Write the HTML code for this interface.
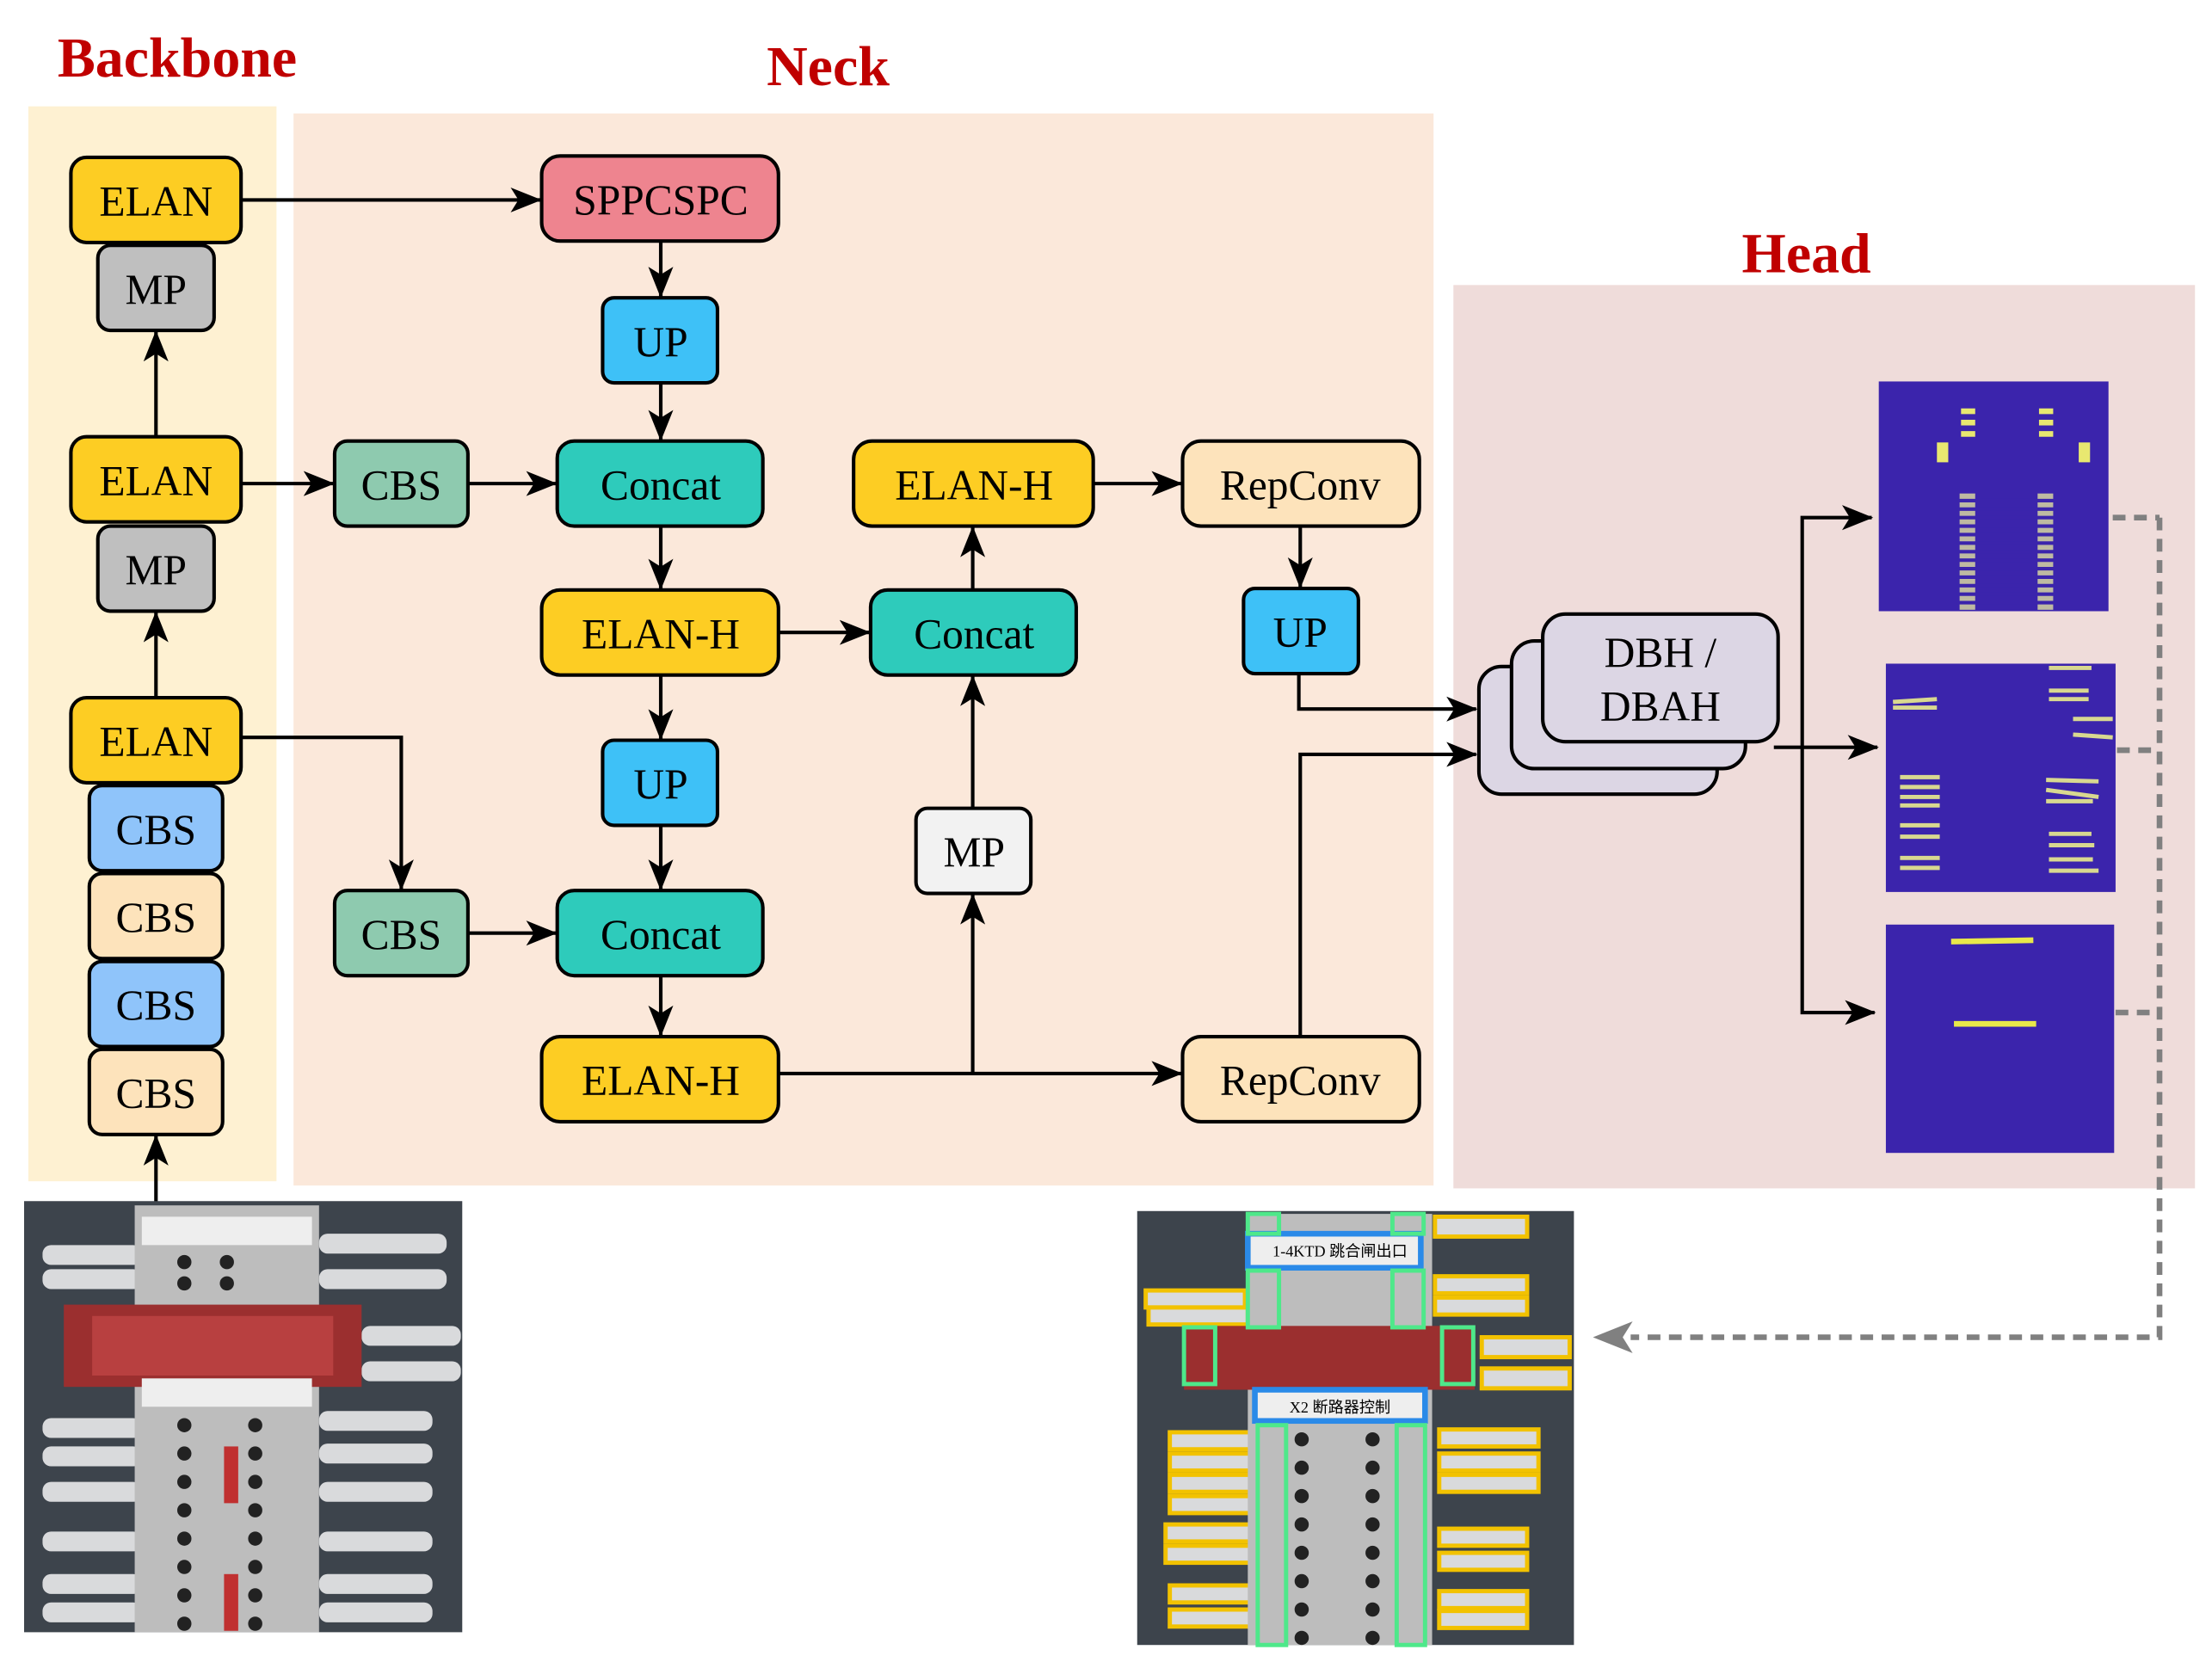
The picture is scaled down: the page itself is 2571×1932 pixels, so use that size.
<!DOCTYPE html>
<html><head><meta charset="utf-8"><style>
html,body{margin:0;padding:0;background:#fff;}
svg{display:block;}
text{font-family:"Liberation Serif",serif;}
</style></head><body>
<svg width="2571" height="1932" viewBox="0 0 1560 1172" preserveAspectRatio="none" xmlns="http://www.w3.org/2000/svg">
<defs>
<marker id="ah" markerWidth="10" markerHeight="10" refX="9" refY="5" orient="auto" markerUnits="userSpaceOnUse" viewBox="0 0 10 10">
</marker>
<marker id="a" viewBox="0 0 20 16" refX="19" refY="8" markerWidth="22" markerHeight="18" orient="auto" markerUnits="userSpaceOnUse"><path d="M0,0 L20,8 L0,16 L5,8 z" fill="#000"/></marker>
<marker id="g" viewBox="0 0 20 16" refX="1" refY="8" markerWidth="28" markerHeight="24" orient="auto-start-reverse" markerUnits="userSpaceOnUse"><path d="M0,0 L20,8 L0,16 L5,8 z" fill="#808080"/></marker>
</defs>

<!-- backgrounds -->
<rect x="20" y="75" width="175" height="758" fill="#fef1d2"/>
<rect x="207" y="80" width="804" height="756" fill="#fbe8da"/>
<rect x="1025" y="201" width="523" height="637" fill="#efdcda"/>

<!-- titles -->
<g font-weight="bold" fill="#c00000" font-size="40" text-anchor="middle">
<text x="125" y="54">Backbone</text>
<text x="584" y="60">Neck</text>
<text x="1274" y="192">Head</text>
</g>

<!-- connectors -->
<g stroke="#000" stroke-width="2.5" fill="none" marker-end="url(#a)">
<line x1="170" y1="141" x2="381" y2="141"/>
<line x1="466" y1="170" x2="466" y2="209"/>
<line x1="466" y1="270" x2="466" y2="310"/>
<line x1="170" y1="341" x2="235" y2="341"/>
<line x1="330" y1="341" x2="392" y2="341"/>
<line x1="466" y1="371" x2="466" y2="415"/>
<line x1="549" y1="446" x2="613" y2="446"/>
<line x1="466" y1="476" x2="466" y2="521"/>
<line x1="466" y1="582" x2="466" y2="627"/>
<polyline points="170,520 283,520 283,627"/>
<line x1="330" y1="658" x2="392" y2="658"/>
<line x1="466" y1="688" x2="466" y2="730"/>
<line x1="549" y1="757" x2="833" y2="757"/>
<line x1="686" y1="757" x2="686" y2="631"/>
<line x1="686" y1="570" x2="686" y2="477"/>
<line x1="686" y1="416" x2="686" y2="372"/>
<line x1="771" y1="341" x2="833" y2="341"/>
<line x1="917" y1="371" x2="917" y2="414"/>
<polyline points="916,475 916,500 1041,500"/>
<polyline points="917,731 917,532 1041,532"/>
<line x1="110" y1="308" x2="110" y2="234"/>
<line x1="110" y1="492" x2="110" y2="432"/>
<line x1="110" y1="848" x2="110" y2="801"/>
<polyline points="1271,527 1271,365 1320,365"/>
<line x1="1251" y1="527" x2="1324" y2="527"/>
<polyline points="1271,527 1271,714 1322,714"/>
</g>

<!-- dashed feedback -->
<g stroke="#808080" stroke-width="4" fill="none" stroke-dasharray="9,6">
<line x1="1490" y1="365" x2="1523" y2="365"/>
<line x1="1493" y1="529" x2="1523" y2="529"/>
<line x1="1492" y1="714" x2="1523" y2="714"/>
<polyline points="1523,365 1523,943 1150,943" marker-end="url(#g)"/>
</g>

<!-- boxes -->
<g stroke="#000" stroke-width="2.5">
<rect x="50" y="111" width="120" height="60" rx="11" fill="#fdcd23"/>
<rect x="69" y="173" width="82" height="60" rx="9" fill="#bfbfbf"/>
<rect x="50" y="308" width="120" height="60" rx="11" fill="#fdcd23"/>
<rect x="69" y="371" width="82" height="60" rx="9" fill="#bfbfbf"/>
<rect x="50" y="492" width="120" height="60" rx="11" fill="#fdcd23"/>
<rect x="63" y="554" width="94" height="60" rx="9" fill="#8fc4fa"/>
<rect x="63" y="616" width="94" height="60" rx="9" fill="#fde3bb"/>
<rect x="63" y="678" width="94" height="60" rx="9" fill="#8fc4fa"/>
<rect x="63" y="740" width="94" height="60" rx="9" fill="#fde3bb"/>

<rect x="382" y="110" width="167" height="60" rx="13" fill="#ee848f"/>
<rect x="425" y="210" width="81" height="60" rx="8" fill="#3ec1f7"/>
<rect x="236" y="311" width="94" height="60" rx="9" fill="#8ecaaf"/>
<rect x="393" y="311" width="145" height="60" rx="12" fill="#2ecbbb"/>
<rect x="382" y="416" width="167" height="60" rx="13" fill="#fdcd23"/>
<rect x="425" y="522" width="81" height="60" rx="8" fill="#3ec1f7"/>
<rect x="236" y="628" width="94" height="60" rx="9" fill="#8ecaaf"/>
<rect x="393" y="628" width="145" height="60" rx="12" fill="#2ecbbb"/>
<rect x="382" y="731" width="167" height="60" rx="13" fill="#fdcd23"/>
<rect x="614" y="416" width="145" height="60" rx="12" fill="#2ecbbb"/>
<rect x="602" y="311" width="169" height="60" rx="13" fill="#fdcd23"/>
<rect x="646" y="570" width="81" height="60" rx="8" fill="#f2f2f2"/>
<rect x="834" y="311" width="167" height="60" rx="13" fill="#fde3bb"/>
<rect x="877" y="415" width="81" height="60" rx="8" fill="#3ec1f7"/>
<rect x="834" y="731" width="167" height="60" rx="13" fill="#fde3bb"/>

<rect x="1043" y="470" width="168" height="90" rx="16" fill="#dcd6e4"/>
<rect x="1066" y="452" width="165" height="90" rx="16" fill="#dcd6e4"/>
<rect x="1088" y="433" width="166" height="90" rx="16" fill="#dcd6e4"/>
</g>

<g font-size="30" text-anchor="middle" fill="#000">
<text x="110" y="152">ELAN</text>
<text x="110" y="214">MP</text>
<text x="110" y="349">ELAN</text>
<text x="110" y="412">MP</text>
<text x="110" y="533">ELAN</text>
<text x="110" y="595">CBS</text>
<text x="110" y="657">CBS</text>
<text x="110" y="719">CBS</text>
<text x="110" y="781">CBS</text>
<text x="466" y="151">SPPCSPC</text>
<text x="466" y="251">UP</text>
<text x="283" y="352">CBS</text>
<text x="466" y="352">Concat</text>
<text x="466" y="457">ELAN-H</text>
<text x="466" y="563">UP</text>
<text x="283" y="669">CBS</text>
<text x="466" y="669">Concat</text>
<text x="466" y="772">ELAN-H</text>
<text x="687" y="457">Concat</text>
<text x="687" y="352">ELAN-H</text>
<text x="687" y="611">MP</text>
<text x="917" y="352">RepConv</text>
<text x="917" y="456">UP</text>
<text x="917" y="772">RepConv</text>
<text x="1171" y="470">DBH /</text>
<text x="1171" y="508">DBAH</text>
</g>

<!-- feature maps -->
<rect x="1325" y="269" width="162" height="162" fill="#3b24ac"/>
<g fill="#e8e870">
<rect x="1383" y="288" width="10" height="4"/><rect x="1383" y="296" width="10" height="4"/><rect x="1383" y="304" width="10" height="4"/>
<rect x="1438" y="288" width="10" height="4"/><rect x="1438" y="296" width="10" height="4"/><rect x="1438" y="304" width="10" height="4"/>
<rect x="1366" y="312" width="8" height="14"/><rect x="1466" y="312" width="8" height="14"/>
</g>
<g fill="#e0e0a0">
<rect x="1382" y="348" width="11" height="82" opacity="0.8"/>
<rect x="1437" y="348" width="11" height="82" opacity="0.8"/>
</g>
<g stroke="#3b24ac" stroke-width="2.5">
<line x1="1380" y1="353" x2="1450" y2="353"/><line x1="1380" y1="359" x2="1450" y2="359"/><line x1="1380" y1="365" x2="1450" y2="365"/><line x1="1380" y1="371" x2="1450" y2="371"/><line x1="1380" y1="377" x2="1450" y2="377"/><line x1="1380" y1="383" x2="1450" y2="383"/><line x1="1380" y1="389" x2="1450" y2="389"/><line x1="1380" y1="395" x2="1450" y2="395"/><line x1="1380" y1="401" x2="1450" y2="401"/><line x1="1380" y1="407" x2="1450" y2="407"/><line x1="1380" y1="413" x2="1450" y2="413"/><line x1="1380" y1="419" x2="1450" y2="419"/><line x1="1380" y1="425" x2="1450" y2="425"/>
</g>
<rect x="1330" y="468" width="162" height="161" fill="#3b24ac"/>
<g stroke="#d8d890" stroke-width="3">
<line x1="1445" y1="471" x2="1475" y2="471"/><line x1="1445" y1="487" x2="1473" y2="487"/><line x1="1445" y1="493" x2="1473" y2="493"/>
<line x1="1335" y1="495" x2="1366" y2="493"/><line x1="1335" y1="499" x2="1366" y2="499"/>
<line x1="1462" y1="507" x2="1490" y2="507"/><line x1="1462" y1="518" x2="1490" y2="520"/>
<line x1="1340" y1="548" x2="1368" y2="548"/><line x1="1340" y1="555" x2="1368" y2="555"/><line x1="1340" y1="562" x2="1368" y2="562"/><line x1="1340" y1="568" x2="1368" y2="568"/>
<line x1="1340" y1="582" x2="1368" y2="582"/><line x1="1340" y1="590" x2="1368" y2="590"/><line x1="1340" y1="605" x2="1368" y2="605"/><line x1="1340" y1="612" x2="1368" y2="612"/>
<line x1="1443" y1="550" x2="1480" y2="551"/><line x1="1443" y1="557" x2="1480" y2="562"/><line x1="1443" y1="565" x2="1476" y2="565"/>
<line x1="1445" y1="588" x2="1475" y2="588"/><line x1="1445" y1="596" x2="1477" y2="596"/><line x1="1445" y1="606" x2="1476" y2="606"/><line x1="1445" y1="614" x2="1480" y2="614"/>
</g>
<rect x="1330" y="652" width="161" height="161" fill="#3b24ac"/>
<line x1="1376" y1="664" x2="1434" y2="663" stroke="#e8e84a" stroke-width="4"/>
<line x1="1378" y1="722" x2="1436" y2="722" stroke="#e8e84a" stroke-width="4"/>

<!-- left photo -->
<g>
<rect x="17" y="847" width="309" height="304" fill="#3d444c"/>
<g fill="#d9dadc">
<rect x="30" y="878" width="70" height="14" rx="6"/><rect x="225" y="870" width="90" height="14" rx="6"/>
<rect x="30" y="895" width="70" height="14" rx="6"/><rect x="225" y="895" width="90" height="14" rx="6"/>
<rect x="255" y="935" width="70" height="14" rx="6"/><rect x="255" y="960" width="70" height="14" rx="6"/>
<rect x="30" y="1000" width="70" height="14" rx="6"/><rect x="225" y="995" width="80" height="14" rx="6"/>
<rect x="30" y="1020" width="70" height="14" rx="6"/><rect x="225" y="1018" width="80" height="14" rx="6"/>
<rect x="30" y="1045" width="70" height="14" rx="6"/><rect x="225" y="1045" width="80" height="14" rx="6"/>
<rect x="30" y="1080" width="70" height="14" rx="6"/><rect x="225" y="1080" width="80" height="14" rx="6"/>
<rect x="30" y="1110" width="70" height="14" rx="6"/><rect x="225" y="1110" width="80" height="14" rx="6"/>
<rect x="30" y="1130" width="70" height="14" rx="6"/><rect x="225" y="1130" width="80" height="14" rx="6"/>
</g>
<rect x="95" y="850" width="130" height="301" fill="#bdbdbd"/>
<rect x="100" y="858" width="120" height="20" fill="#eeeeee"/>
<rect x="45" y="920" width="210" height="58" fill="#9b2f2f"/>
<rect x="65" y="928" width="170" height="42" fill="#b84040"/>
<rect x="100" y="972" width="120" height="20" fill="#eeeeee"/>
<g fill="#222">
<circle cx="130" cy="890" r="5"/><circle cx="160" cy="890" r="5"/><circle cx="130" cy="905" r="5"/><circle cx="160" cy="905" r="5"/>
<circle cx="130" cy="1005" r="5"/><circle cx="130" cy="1025" r="5"/><circle cx="130" cy="1045" r="5"/><circle cx="130" cy="1065" r="5"/><circle cx="130" cy="1085" r="5"/><circle cx="130" cy="1105" r="5"/><circle cx="130" cy="1125" r="5"/><circle cx="130" cy="1145" r="5"/>
<circle cx="180" cy="1005" r="5"/><circle cx="180" cy="1025" r="5"/><circle cx="180" cy="1045" r="5"/><circle cx="180" cy="1065" r="5"/><circle cx="180" cy="1085" r="5"/><circle cx="180" cy="1105" r="5"/><circle cx="180" cy="1125" r="5"/><circle cx="180" cy="1145" r="5"/>
</g>
<rect x="158" y="1020" width="10" height="40" fill="#c03030"/>
<rect x="158" y="1110" width="10" height="40" fill="#c03030"/>
</g>

<!-- right photo -->
<g>
<rect x="802" y="854" width="308" height="306" fill="#3d444c"/>
<g fill="#d9dadc" stroke="#f2c200" stroke-width="3">
<rect x="1012" y="858" width="65" height="14"/><rect x="1012" y="900" width="65" height="12"/><rect x="1012" y="915" width="65" height="12"/>
<rect x="808" y="910" width="70" height="12"/><rect x="810" y="922" width="70" height="12"/>
<rect x="1045" y="943" width="62" height="14"/><rect x="1045" y="965" width="62" height="14"/>
<rect x="825" y="1010" width="62" height="12"/><rect x="825" y="1025" width="62" height="12"/><rect x="825" y="1040" width="62" height="12"/><rect x="825" y="1055" width="62" height="12"/>
<rect x="1015" y="1008" width="70" height="12"/><rect x="1015" y="1025" width="70" height="12"/><rect x="1015" y="1040" width="70" height="12"/>
<rect x="822" y="1075" width="65" height="12"/><rect x="822" y="1090" width="65" height="12"/><rect x="1015" y="1078" width="62" height="12"/><rect x="1015" y="1095" width="62" height="12"/>
<rect x="825" y="1118" width="62" height="12"/><rect x="825" y="1135" width="62" height="12"/><rect x="1015" y="1122" width="62" height="12"/><rect x="1015" y="1136" width="62" height="12"/>
</g>
<rect x="880" y="856" width="130" height="304" fill="#bdbdbd"/>
<rect x="880" y="870" width="122" height="24" fill="#eeeeee" stroke="#2a8ae8" stroke-width="4"/>
<rect x="835" y="935" width="205" height="45" fill="#9b2f2f"/>
<rect x="885" y="980" width="120" height="22" fill="#eeeeee" stroke="#2a8ae8" stroke-width="4"/>
<g fill="none" stroke="#4ee88a" stroke-width="3">
<rect x="880" y="856" width="22" height="14"/><rect x="982" y="856" width="22" height="14"/>
<rect x="880" y="896" width="22" height="40"/><rect x="982" y="896" width="22" height="40"/>
<rect x="835" y="936" width="22" height="40"/><rect x="1017" y="936" width="22" height="40"/>
<rect x="887" y="1005" width="20" height="155"/><rect x="985" y="1005" width="20" height="155"/>
</g>
<g fill="#222">
<circle cx="918" cy="1015" r="5"/><circle cx="918" cy="1035" r="5"/><circle cx="918" cy="1055" r="5"/><circle cx="918" cy="1075" r="5"/><circle cx="918" cy="1095" r="5"/><circle cx="918" cy="1115" r="5"/><circle cx="918" cy="1135" r="5"/><circle cx="918" cy="1155" r="5"/>
<circle cx="968" cy="1015" r="5"/><circle cx="968" cy="1035" r="5"/><circle cx="968" cy="1055" r="5"/><circle cx="968" cy="1075" r="5"/><circle cx="968" cy="1095" r="5"/><circle cx="968" cy="1115" r="5"/><circle cx="968" cy="1135" r="5"/><circle cx="968" cy="1155" r="5"/>
</g>
<text x="945" y="886" font-size="11" text-anchor="middle" font-family="Liberation Serif, Noto Serif CJK SC, serif">1-4KTD 跳合闸出口</text>
<text x="945" y="996" font-size="11" text-anchor="middle" font-family="Liberation Serif, Noto Serif CJK SC, serif">X2 断路器控制</text>
</g>
</svg>
</body></html>
